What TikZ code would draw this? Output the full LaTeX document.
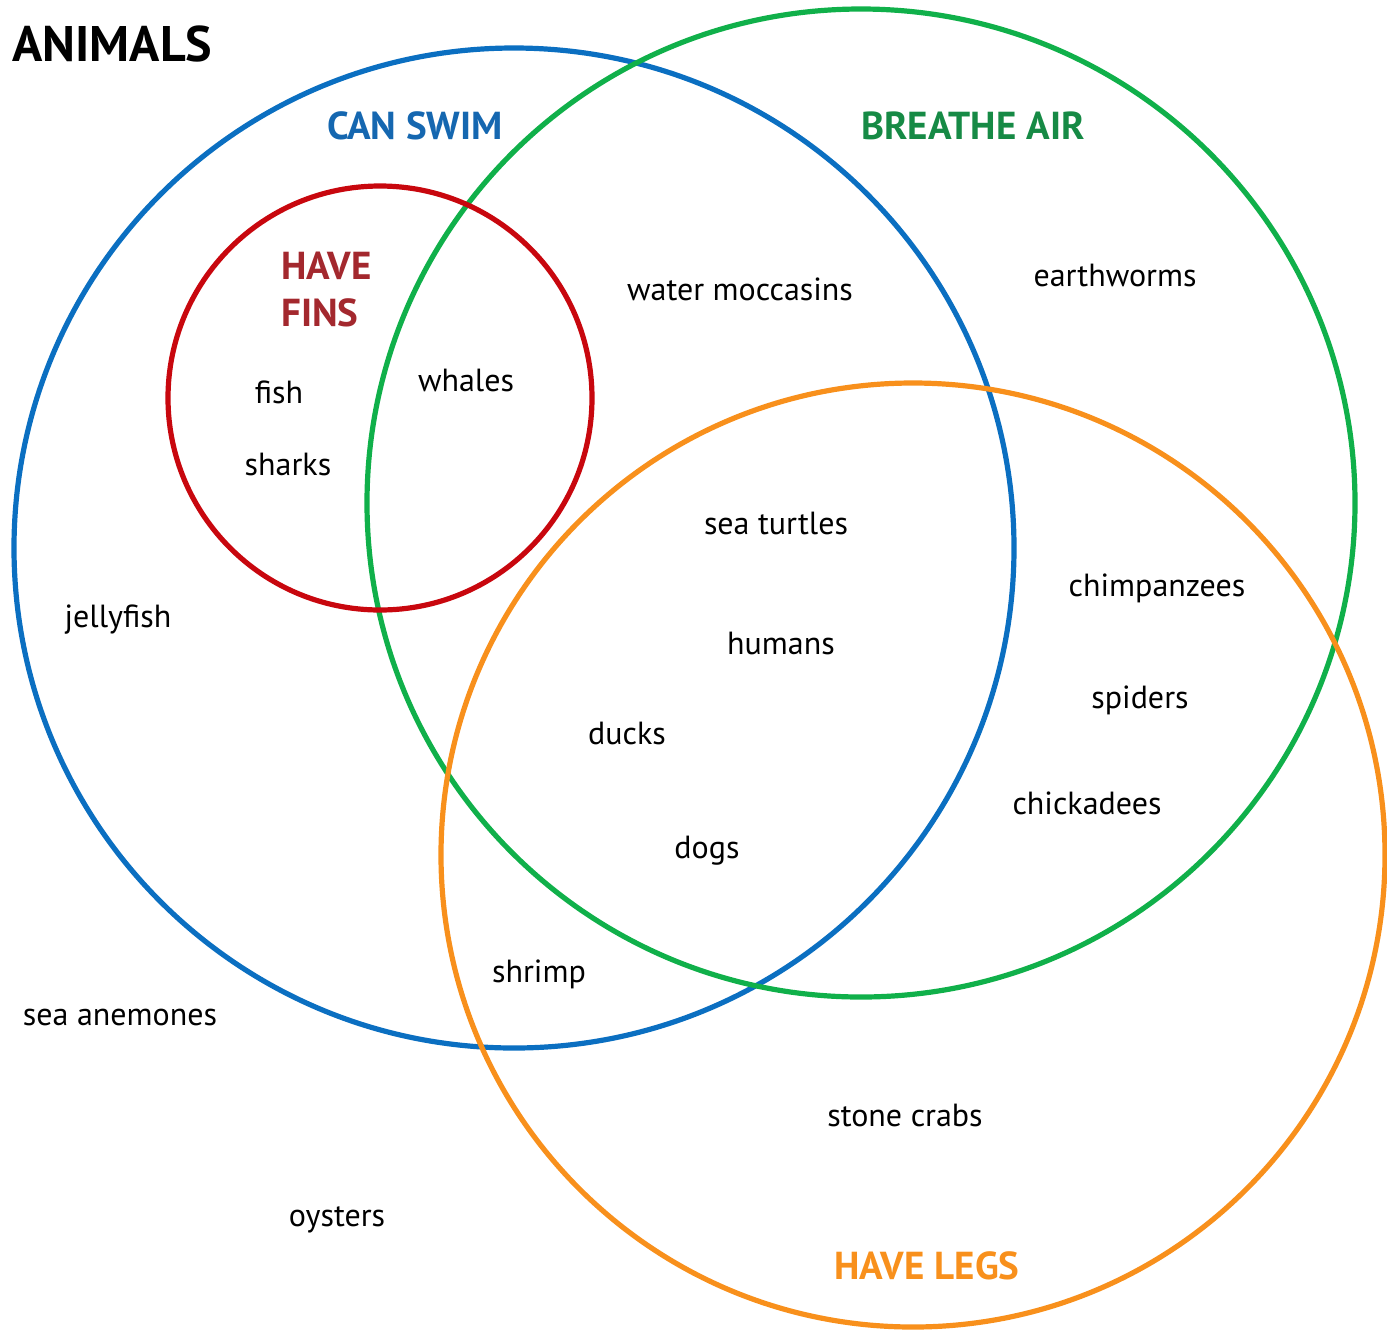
\documentclass[tikz,border=0pt]{standalone}
\usepackage{fontspec}
\setmainfont{PT Sans}
\usepackage{tikz}

\definecolor{swimblue}{HTML}{0B6FC1}
\definecolor{swimtext}{HTML}{1567B0}
\definecolor{airgreen}{HTML}{10B04A}
\definecolor{airtext}{HTML}{168A45}
\definecolor{finred}{HTML}{C8070E}
\definecolor{fintext}{HTML}{A3282E}
\definecolor{legorange}{HTML}{F8901C}

\begin{document}
\begin{tikzpicture}[x=0.5pt, y=-0.5pt,
  set/.style={line width=2.6pt},
  item/.style={anchor=base, inner sep=0pt, font=\fontsize{16}{19}\selectfont},
  head/.style={anchor=base, inner sep=0pt, font=\fontsize{19.5}{23.5}\selectfont\bfseries}]
\useasboundingbox (0,0) rectangle (1387,1330);

% sets
\draw[set, swimblue]  (514,548) circle (500);
\draw[set, airgreen]  (861,503) circle (494);
\draw[set, finred]    (380,398) circle (212);
\draw[set, legorange] (913,855) circle (472);

% set names
\node (animals) [head, anchor=base west, font=\fontsize{25}{28}\selectfont\bfseries] at (12,61) {ANIMALS};
\node (swim) [head, swimtext] at (415,139) {CAN SWIM};
\node (air)  [head, airtext]  at (973,139) {BREATHE AIR};
\node (fins) [head, fintext, anchor=base west, align=left] at (281,326) {HAVE\\FINS};
\node (legs) [head, legorange] at (927,1279) {HAVE LEGS};

% animals
\node (fish)      [item] at (279,403)  {fish};
\node (sharks)    [item] at (288,475)  {sharks};
\node (whales)    [item] at (466,391)  {whales};
\node (moccasins) [item] at (740,300)  {water moccasins};
\node (worms)     [item] at (1115,286) {earthworms};
\node (turtles)   [item] at (776,534)  {sea turtles};
\node (chimps)    [item] at (1157,596) {chimpanzees};
\node (humans)    [item] at (781,654)  {humans};
\node (spiders)   [item] at (1140,708) {spiders};
\node (jelly)     [item] at (118,627)  {jellyfish};
\node (ducks)     [item] at (627,744)  {ducks};
\node (chicks)    [item] at (1087,814) {chickadees};
\node (dogs)      [item] at (707,858)  {dogs};
\node (shrimp)    [item] at (539,982)  {shrimp};
\node (anemones)  [item] at (120,1025) {sea anemones};
\node (crabs)     [item] at (905,1126) {stone crabs};
\node (oysters)   [item] at (337,1226) {oysters};
\end{tikzpicture}
\end{document}
